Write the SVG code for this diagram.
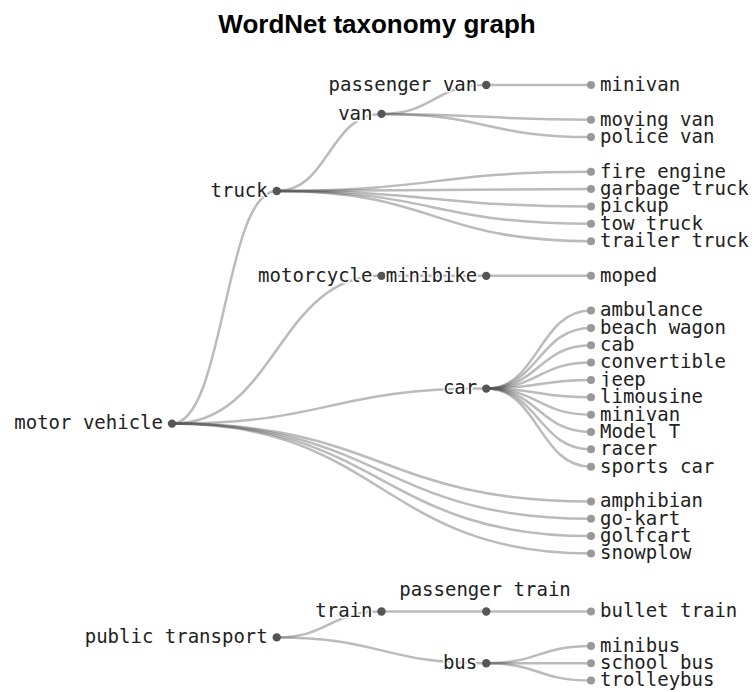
<svg xmlns="http://www.w3.org/2000/svg" width="754" height="692" viewBox="0 0 754 692">
<style>
.title{font-family:"Liberation Sans",Arial,sans-serif;font-weight:bold;font-size:26px;fill:#000}
.links path{fill:none;stroke:#555;stroke-opacity:0.4;stroke-width:2.5}
.in circle{fill:#555}
.lf circle{fill:#999}
text.l{font-family:"DejaVu Sans Mono",monospace;font-size:19px;fill:#222;stroke:#fff;stroke-width:3;stroke-linejoin:round;paint-order:stroke}
.in text.l{text-anchor:end}
</style>
<rect width="754" height="692" fill="#fff"/>
<text class="title" x="377" y="33" text-anchor="middle">WordNet taxonomy graph</text>
<g class="links">
<path d="M172,423.6C224.4,423.6 224.4,191 276.75,191"/>
<path d="M172,423.6C276.75,423.6 276.75,275.85 381.5,275.85"/>
<path d="M172,423.6C329.1,423.6 329.1,388.6 486.25,388.6"/>
<path d="M172,423.6C381.5,423.6 381.5,501.4 591,501.4"/>
<path d="M172,423.6C381.5,423.6 381.5,518.75 591,518.75"/>
<path d="M172,423.6C381.5,423.6 381.5,536.1 591,536.1"/>
<path d="M172,423.6C381.5,423.6 381.5,553.45 591,553.45"/>
<path d="M276.75,191C329.1,191 329.1,113.9 381.5,113.9"/>
<path d="M276.75,191C433.9,191 433.9,171.75 591,171.75"/>
<path d="M276.75,191C433.9,191 433.9,189.1 591,189.1"/>
<path d="M276.75,191C433.9,191 433.9,206.45 591,206.45"/>
<path d="M276.75,191C433.9,191 433.9,223.8 591,223.8"/>
<path d="M276.75,191C433.9,191 433.9,241.15 591,241.15"/>
<path d="M381.5,113.9C433.9,113.9 433.9,85 486.25,85"/>
<path d="M381.5,113.9C486.25,113.9 486.25,119.7 591,119.7"/>
<path d="M381.5,113.9C486.25,113.9 486.25,137.05 591,137.05"/>
<path d="M486.25,85L591,85"/>
<path d="M381.5,275.85L486.25,275.85"/>
<path d="M486.25,275.85L591,275.85"/>
<path d="M486.25,388.6C538.6,388.6 538.6,310.55 591,310.55"/>
<path d="M486.25,388.6C538.6,388.6 538.6,327.9 591,327.9"/>
<path d="M486.25,388.6C538.6,388.6 538.6,345.25 591,345.25"/>
<path d="M486.25,388.6C538.6,388.6 538.6,362.6 591,362.6"/>
<path d="M486.25,388.6C538.6,388.6 538.6,379.95 591,379.95"/>
<path d="M486.25,388.6C538.6,388.6 538.6,397.3 591,397.3"/>
<path d="M486.25,388.6C538.6,388.6 538.6,414.65 591,414.65"/>
<path d="M486.25,388.6C538.6,388.6 538.6,432 591,432"/>
<path d="M486.25,388.6C538.6,388.6 538.6,449.35 591,449.35"/>
<path d="M486.25,388.6C538.6,388.6 538.6,466.7 591,466.7"/>
<path d="M276.75,637.4C329.1,637.4 329.1,611.5 381.5,611.5"/>
<path d="M276.75,637.4C381.5,637.4 381.5,663.3 486.25,663.3"/>
<path d="M381.5,611.5L486.25,611.5"/>
<path d="M486.25,611.5L591,611.5"/>
<path d="M486.25,663.3C538.6,663.3 538.6,646 591,646"/>
<path d="M486.25,663.3L591,663.3"/>
<path d="M486.25,663.3C538.6,663.3 538.6,680.6 591,680.6"/>
</g>
<g id="motor-vehicle" class="in"><circle cx="172" cy="423.6" r="4.2"/><text class="l" x="163" y="423.6" dy="0.31em">motor vehicle</text></g>
<g id="truck" class="in"><circle cx="276.75" cy="191" r="4.2"/><text class="l" x="267.75" y="191" dy="0.31em">truck</text></g>
<g id="van" class="in"><circle cx="381.5" cy="113.9" r="4.2"/><text class="l" x="372.5" y="113.9" dy="0.31em">van</text></g>
<g id="passenger-van" class="in"><circle cx="486.25" cy="85" r="4.2"/><text class="l" x="477.25" y="85" dy="0.31em">passenger van</text></g>
<g id="minivan-1" class="lf"><circle cx="591" cy="85" r="4"/><text class="l" x="600" y="85" dy="0.31em">minivan</text></g>
<g id="moving-van" class="lf"><circle cx="591" cy="119.7" r="4"/><text class="l" x="600" y="119.7" dy="0.31em">moving van</text></g>
<g id="police-van" class="lf"><circle cx="591" cy="137.05" r="4"/><text class="l" x="600" y="137.05" dy="0.31em">police van</text></g>
<g id="fire-engine" class="lf"><circle cx="591" cy="171.75" r="4"/><text class="l" x="600" y="171.75" dy="0.31em">fire engine</text></g>
<g id="garbage-truck" class="lf"><circle cx="591" cy="189.1" r="4"/><text class="l" x="600" y="189.1" dy="0.31em">garbage truck</text></g>
<g id="pickup" class="lf"><circle cx="591" cy="206.45" r="4"/><text class="l" x="600" y="206.45" dy="0.31em">pickup</text></g>
<g id="tow-truck" class="lf"><circle cx="591" cy="223.8" r="4"/><text class="l" x="600" y="223.8" dy="0.31em">tow truck</text></g>
<g id="trailer-truck" class="lf"><circle cx="591" cy="241.15" r="4"/><text class="l" x="600" y="241.15" dy="0.31em">trailer truck</text></g>
<g id="motorcycle" class="in"><circle cx="381.5" cy="275.85" r="4.2"/><text class="l" x="372.5" y="275.85" dy="0.31em">motorcycle</text></g>
<g id="minibike" class="in"><circle cx="486.25" cy="275.85" r="4.2"/><text class="l" x="477.25" y="275.85" dy="0.31em">minibike</text></g>
<g id="moped" class="lf"><circle cx="591" cy="275.85" r="4"/><text class="l" x="600" y="275.85" dy="0.31em">moped</text></g>
<g id="car" class="in"><circle cx="486.25" cy="388.6" r="4.2"/><text class="l" x="477.25" y="388.6" dy="0.31em">car</text></g>
<g id="ambulance" class="lf"><circle cx="591" cy="310.55" r="4"/><text class="l" x="600" y="310.55" dy="0.31em">ambulance</text></g>
<g id="beach-wagon" class="lf"><circle cx="591" cy="327.9" r="4"/><text class="l" x="600" y="327.9" dy="0.31em">beach wagon</text></g>
<g id="cab" class="lf"><circle cx="591" cy="345.25" r="4"/><text class="l" x="600" y="345.25" dy="0.31em">cab</text></g>
<g id="convertible" class="lf"><circle cx="591" cy="362.6" r="4"/><text class="l" x="600" y="362.6" dy="0.31em">convertible</text></g>
<g id="jeep" class="lf"><circle cx="591" cy="379.95" r="4"/><text class="l" x="600" y="379.95" dy="0.31em">jeep</text></g>
<g id="limousine" class="lf"><circle cx="591" cy="397.3" r="4"/><text class="l" x="600" y="397.3" dy="0.31em">limousine</text></g>
<g id="minivan-2" class="lf"><circle cx="591" cy="414.65" r="4"/><text class="l" x="600" y="414.65" dy="0.31em">minivan</text></g>
<g id="model-t" class="lf"><circle cx="591" cy="432" r="4"/><text class="l" x="600" y="432" dy="0.31em">Model T</text></g>
<g id="racer" class="lf"><circle cx="591" cy="449.35" r="4"/><text class="l" x="600" y="449.35" dy="0.31em">racer</text></g>
<g id="sports-car" class="lf"><circle cx="591" cy="466.7" r="4"/><text class="l" x="600" y="466.7" dy="0.31em">sports car</text></g>
<g id="amphibian" class="lf"><circle cx="591" cy="501.4" r="4"/><text class="l" x="600" y="501.4" dy="0.31em">amphibian</text></g>
<g id="go-kart" class="lf"><circle cx="591" cy="518.75" r="4"/><text class="l" x="600" y="518.75" dy="0.31em">go-kart</text></g>
<g id="golfcart" class="lf"><circle cx="591" cy="536.1" r="4"/><text class="l" x="600" y="536.1" dy="0.31em">golfcart</text></g>
<g id="snowplow" class="lf"><circle cx="591" cy="553.45" r="4"/><text class="l" x="600" y="553.45" dy="0.31em">snowplow</text></g>
<g id="public-transport" class="in"><circle cx="276.75" cy="637.4" r="4.2"/><text class="l" x="267.75" y="637.4" dy="0.31em">public transport</text></g>
<g id="train" class="in"><circle cx="381.5" cy="611.5" r="4.2"/><text class="l" x="372.5" y="611.5" dy="0.31em">train</text></g>
<g id="passenger-train"><circle cx="486.25" cy="611.5" r="4.2" fill="#555"/><text class="l" x="485" y="596" text-anchor="middle">passenger train</text></g>
<g id="bullet-train" class="lf"><circle cx="591" cy="611.5" r="4"/><text class="l" x="600" y="611.5" dy="0.31em">bullet train</text></g>
<g id="bus" class="in"><circle cx="486.25" cy="663.3" r="4.2"/><text class="l" x="477.25" y="663.3" dy="0.31em">bus</text></g>
<g id="minibus" class="lf"><circle cx="591" cy="646" r="4"/><text class="l" x="600" y="646" dy="0.31em">minibus</text></g>
<g id="school-bus" class="lf"><circle cx="591" cy="663.3" r="4"/><text class="l" x="600" y="663.3" dy="0.31em">school bus</text></g>
<g id="trolleybus" class="lf"><circle cx="591" cy="680.6" r="4"/><text class="l" x="600" y="680.6" dy="0.31em">trolleybus</text></g>
</svg>
